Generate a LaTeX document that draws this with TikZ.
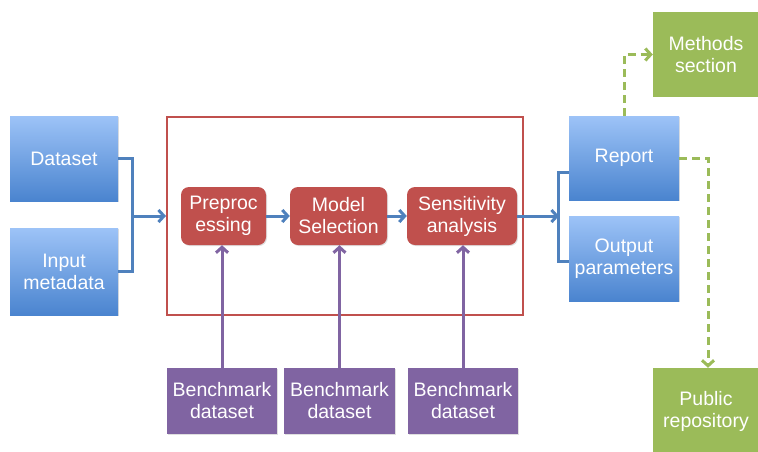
\documentclass[tikz,border=0pt]{standalone}
\usepackage{fontspec}
\setmainfont{Liberation Sans}
\usetikzlibrary{arrows.meta,shadows}
\definecolor{bluetop}{HTML}{9DC3F7}
\definecolor{bluebot}{HTML}{4A84CF}
\definecolor{blueline}{HTML}{4F81BD}
\definecolor{redfill}{HTML}{C0504D}
\definecolor{purp}{HTML}{8064A2}
\definecolor{grn}{HTML}{9BBB59}
\tikzset{
  box/.style={rectangle, inner sep=0pt, align=center, text=white,
    font=\fontsize{19.5}{22}\selectfont},
  bluebox/.style={box, top color=bluetop, bottom color=bluebot,
    drop shadow={shadow xshift=1pt, shadow yshift=-1pt, opacity=0.25}},
  redbox/.style={box, fill=redfill, rounded corners=8pt,
    drop shadow={shadow xshift=1pt, shadow yshift=-1pt, opacity=0.25}},
  purbox/.style={box, fill=purp,
    drop shadow={shadow xshift=1pt, shadow yshift=-1pt, opacity=0.25}},
  grnbox/.style={box, fill=grn},
  tip/.style={-{Straight Barb[length=5.5pt,width=12pt]}},
  bline/.style={draw=blueline, line width=3pt},
  pline/.style={draw=purp, line width=3pt},
  gline/.style={draw=grn, line width=3pt, dash pattern=on 8pt off 5pt},
}
\begin{document}
\begin{tikzpicture}[x=1pt,y=-1pt]
\useasboundingbox (0,0) rectangle (758,451);
\clip (0,0) rectangle (758,451);
% input boxes
\node[bluebox, minimum width=108pt, minimum height=85pt] (ds) at (64,158.5) {Dataset};
\node[bluebox, minimum width=108pt, minimum height=87pt] (in) at (64,271.5) {Input\\metadata};
% frame
\node[draw=redfill, line width=2pt, rectangle, minimum width=356pt, minimum height=198pt, inner sep=0pt] (frame) at (345,216) {};
% process steps
\node[redbox, minimum width=85pt, minimum height=58pt] (pre) at (223.5,216) {Preproc\\essing};
\node[redbox, minimum width=97pt, minimum height=58pt] (mod) at (338.5,216) {Model\\Selection};
\node[redbox, minimum width=110pt, minimum height=58pt] (sen) at (462,216) {Sensitivity\\analysis};
% outputs
\node[bluebox, minimum width=110pt, minimum height=84pt] (rep) at (624,158) {Report};
\node[bluebox, minimum width=110pt, minimum height=85pt] (out) at (624,258.5) {Output\\parameters};
\node[grnbox, minimum width=106pt, minimum height=85pt] (meth) at (706,54.5) {Methods\\section};
\node[grnbox, minimum width=106pt, minimum height=86pt] (pub) at (706,411) {Public\\repository};
% benchmarks
\node[purbox, minimum width=110pt, minimum height=66pt] (b1) at (222,401) {Benchmark\\dataset};
\node[purbox, minimum width=111pt, minimum height=66pt] (b2) at (339.5,401) {Benchmark\\dataset};
\node[purbox, minimum width=110pt, minimum height=66pt] (b3) at (463,401) {Benchmark\\dataset};
% connectors
\coordinate (jl) at (132,216);
\coordinate (jr) at (559,216);
\draw[bline] (ds.east) -- ++(14,0) |- (in.east);
\draw[bline, tip] (jl) -- (frame.west);
\draw[bline, tip] (pre) -- (mod);
\draw[bline, tip] (mod) -- (sen);
\draw[bline, tip] (sen.east) -- (jr);
\draw[bline] (rep.west) ++(0,14) -- ++(-10,0) |- ([yshift=-2.5pt]out.west);
\draw[pline, tip] (b1.north) -- (b1.north |- pre.south);
\draw[pline, tip] (b2.north) -- (b2.north |- mod.south);
\draw[pline, tip] (b3.north) -- (b3.north |- sen.south);
\draw[gline, tip] (rep.north) |- (meth.west);
\draw[gline, tip] (rep.east) -| ([xshift=2pt]pub.north);
\end{tikzpicture}
\end{document}
